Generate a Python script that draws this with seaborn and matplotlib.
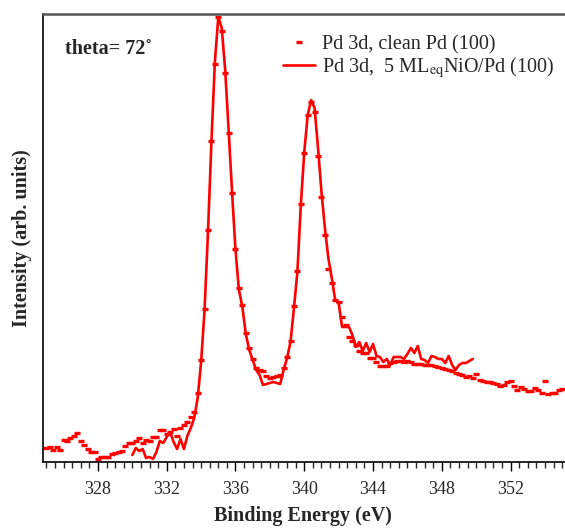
import matplotlib
matplotlib.use("Agg")
import matplotlib.pyplot as plt
from matplotlib.ticker import MultipleLocator
import seaborn as sns

sns.set_style("ticks")
plt.rcParams['font.family'] = ['Liberation Serif', 'DejaVu Serif']
plt.rcParams['mathtext.fontset'] = 'stix'

# clean Pd (100): binding energy (eV) and intensity (arb. units)
clean_be = [
    325.0, 325.2, 325.4, 325.6, 325.8, 326.0, 326.2, 326.4, 326.6, 326.8,
    327.0, 327.2, 327.4, 327.6, 327.8, 328.0, 328.2, 328.4, 328.6, 328.8,
    329.0, 329.2, 329.4, 329.6, 329.8, 330.0, 330.2, 330.4, 330.6, 330.8,
    331.0, 331.2, 331.4, 331.6, 331.8, 332.0, 332.2, 332.4, 332.6, 332.8,
    333.0, 333.2, 333.4, 333.6, 333.8, 334.0, 334.2, 334.4, 334.6, 334.8,
    335.0, 335.2, 335.4, 335.6, 335.8, 336.0, 336.2, 336.4, 336.6, 336.8,
    337.0, 337.2, 337.4, 337.6, 337.8, 338.0, 338.2, 338.4, 338.6, 338.8,
    339.0, 339.2, 339.4, 339.6, 339.8, 340.0, 340.2, 340.4, 340.6, 340.8,
    341.0, 341.2, 341.4, 341.6, 341.8, 342.0, 342.2, 342.4, 342.6, 342.8,
    343.0, 343.2, 343.4, 343.6, 343.8, 344.0, 344.2, 344.4, 344.6, 344.8,
    345.0, 345.2, 345.4, 345.6, 345.8, 346.0, 346.2, 346.4, 346.6, 346.8,
    347.0, 347.2, 347.4, 347.6, 347.8, 348.0, 348.2, 348.4, 348.6, 348.8,
    349.0, 349.2, 349.4, 349.6, 349.8, 350.0, 350.2, 350.4, 350.6, 350.8,
    351.0, 351.2, 351.4, 351.6, 351.8, 352.0, 352.2, 352.4, 352.6, 352.8,
    353.0, 353.2, 353.4, 353.6, 353.8, 354.0, 354.2, 354.4, 354.6, 354.8,
    355.0]
clean_int = [
    14, 15, 12, 15, 12, 22, 21, 24, 26, 29,
    21, 17, 13, 10, 10, 3, 5, 5, 5, 8,
    9, 10, 11, 16, 19, 19, 21, 24, 19, 22,
    21, 25, 25, 32, 32, 28, 30, 33, 26, 34,
    37, 40, 45, 50, 69, 102, 153, 232, 321, 398,
    445, 431, 389, 329, 269, 213, 174, 157, 129, 114,
    103, 94, 92, 91, 86, 84, 85, 86, 87, 94,
    105, 121, 156, 191, 258, 309, 347, 360, 350, 306,
    265, 227, 193, 179, 162, 160, 145, 137, 125, 121,
    117, 111, 109, 109, 104, 104, 100, 96, 96, 96,
    99, 100, 101, 101, 100, 101, 100, 98, 98, 98,
    97, 97, 97, 96, 95, 94, 93, 92, 91, 89,
    88, 87, 85, 86, 84, 88, 82, 81, 80, 80,
    79, 78, 76, 77, 80, 81, 76, 72, 75, 73,
    71, 71, 74, 72, 69, 81, 68, 69, 69, 72,
    73]

# 5 ML_eq NiO/Pd (100)
nio_be = [
    330.0, 330.2, 330.4, 330.6, 330.8, 331.0, 331.2, 331.4, 331.6, 331.8,
    332.0, 332.2, 332.4, 332.6, 332.8, 333.0, 333.2, 333.4, 333.6, 333.8,
    334.0, 334.2, 334.4, 334.6, 334.8, 335.0, 335.2, 335.4, 335.6, 335.8,
    336.0, 336.2, 336.4, 336.6, 336.8, 337.0, 337.2, 337.4, 337.6, 337.8,
    338.0, 338.2, 338.4, 338.6, 338.8, 339.0, 339.2, 339.4, 339.6, 339.8,
    340.0, 340.2, 340.4, 340.6, 340.8, 341.0, 341.2, 341.4, 341.6, 341.8,
    342.0, 342.2, 342.4, 342.6, 342.8, 343.0, 343.2, 343.4, 343.6, 343.8,
    344.0, 344.2, 344.4, 344.6, 344.8, 345.0, 345.2, 345.4, 345.6, 345.8,
    346.0, 346.2, 346.4, 346.6, 346.8, 347.0, 347.2, 347.4, 347.6, 347.8,
    348.0, 348.2, 348.4, 348.6, 348.8, 349.0, 349.2, 349.4, 349.6, 349.8]
nio_int = [
    7, 14, 11, 13, 4, 5, 3, 10, 21, 19,
    25, 30, 20, 13, 23, 13, 26, 34, 44, 64,
    100, 152, 230, 320, 400, 445, 434, 392, 332, 270,
    212, 172, 155, 128, 112, 102, 92, 87, 77, 78,
    79, 80, 79, 78, 92, 104, 120, 154, 190, 257,
    310, 347, 362, 354, 314, 270, 234, 204, 184, 162,
    159, 135, 135, 135, 127, 115, 120, 111, 119, 110,
    118, 106, 105, 100, 103, 97, 105, 105, 105, 103,
    108, 114, 109, 116, 103, 102, 99, 106, 105, 103,
    103, 99, 106, 97, 92, 97, 99, 99, 101, 103]

fig = plt.figure(figsize=(5.65, 5.29), dpi=100)
ax = fig.add_axes([0.076, 0.1267, 0.922, 0.8468])

sns.lineplot(x=clean_be, y=clean_int, ax=ax, color='#ff0000', marker='_',
             linestyle='none', markersize=4.5, markeredgewidth=2.4,
             markeredgecolor='#ff0000', label='Pd 3d, clean Pd (100)')
sns.lineplot(x=nio_be, y=nio_int, ax=ax, color='#ff0000', linewidth=1.9,
             label=r'Pd 3d,  5 ML$_{\rm eq}$NiO/Pd (100)')

ax.set_xlim(324.8, 355.1)
ax.set_ylim(0, 448)
ax.xaxis.set_major_locator(MultipleLocator(4))
ax.xaxis.set_minor_locator(MultipleLocator(0.5))
ax.set_yticks([])
ax.tick_params(axis='x', which='major', direction='out', length=6.5,
               width=1, labelsize=13, pad=7, color='black')
ax.tick_params(axis='x', which='minor', direction='out', length=4, width=1)

for s in ['left', 'bottom']:
    ax.spines[s].set_color('black')
    ax.spines[s].set_linewidth(1.2)
ax.spines['top'].set_color('#555555')
ax.spines['top'].set_linewidth(1.8)
ax.spines['right'].set_visible(False)

ax.set_xlabel('Binding Energy (eV)', fontsize=14.5, fontweight='bold', labelpad=6)
ax.set_ylabel('Intensity (arb. units)', fontsize=14.5, fontweight='bold', labelpad=8)

ax.text(0.042, 0.922, 'theta= 72\u02da', transform=ax.transAxes, fontsize=14.5,
        fontweight='bold', ha='left', va='center')

ax.legend(loc='upper right', bbox_to_anchor=(0.998, 0.971), frameon=False,
          fontsize=14.5, numpoints=1, handlelength=1.6, handletextpad=0.35,
          labelspacing=0.05, borderaxespad=0.0)

fig.savefig('out.png', dpi=100)
